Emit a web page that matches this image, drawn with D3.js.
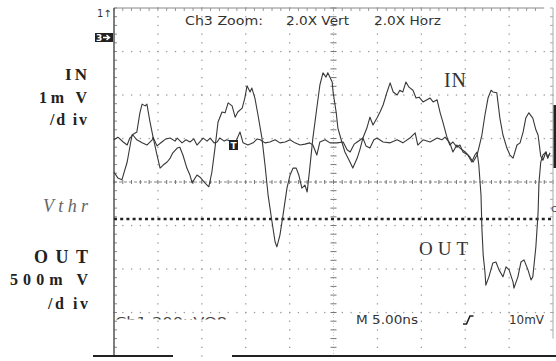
<!DOCTYPE html>
<html>
<head>
<meta charset="utf-8">
<script src="https://cdn.jsdelivr.net/npm/d3@7"></script>
<style>
  html, body { margin: 0; padding: 0; background: #fff; }
  svg { display: block; }
</style>
</head>
<body>
<div id="scope"></div>
<script>
// screen divisions: 10 across, 8 down (centre = 0)
const traceA_t = [0,0.09,0.18,0.30,0.41,0.52,0.59,0.64,0.71,0.75,0.82,0.89,0.98,1.05,1.12,1.21,1.28,1.34,1.44,1.50,1.57,1.66,1.73,1.78,1.89,1.96,2.07,2.16,2.23,2.30,2.37,2.46,2.53,2.60,2.69,2.76,2.82,2.92,2.98,3.03,3.10,3.14,3.21,3.28,3.37,3.44,3.51,3.60,3.67,3.71,3.78,3.85,3.94,4.01,4.08,4.15,4.21,4.28,4.35,4.40,4.46,4.53,4.62,4.69,4.76,4.83,4.87,4.97,4.99,5.06,5.10,5.19,5.26,5.35,5.44,5.54,5.60,5.67,5.76,5.83,5.90,5.99,6.06,6.13,6.22,6.29,6.36,6.45,6.51,6.58,6.65,6.72,6.81,6.88,6.95,7.04,7.13,7.20,7.27,7.36,7.43,7.49,7.59,7.65,7.72,7.81,7.88,7.95,8.06,8.15,8.22,8.27,8.31,8.36,8.38,8.41,8.45,8.47,8.54,8.63,8.70,8.77,8.86,8.93,9.00,9.09,9.11,9.20,9.27,9.34,9.43,9.50,9.54,9.61,9.66,9.68,9.72,9.77,9.84,9.88,9.93];
const traceA_v = [0.23,0.09,0.05,0.46,1.08,1.15,1.59,1.79,1.75,1.79,1.38,1.03,0.62,0.32,0.39,0.46,0.55,0.67,0.78,0.80,0.62,0.32,0.16,-0.02,0.16,0.11,-0.02,-0.11,0.23,0.78,1.38,1.61,1.59,1.82,1.75,1.49,1.61,1.70,1.93,2.21,2.07,2.16,1.93,1.54,1.01,0.39,-0.30,-0.92,-1.38,-1.49,-1.22,-0.76,-0.14,0.16,0.32,0.32,0.16,-0.14,-0.07,-0.23,0.32,1.01,1.70,2.23,2.51,2.41,2.51,2.30,2.07,1.61,1.24,0.92,0.69,0.51,0.32,0.55,0.74,1.01,1.24,1.49,1.31,1.47,1.61,1.77,2.07,2.28,2.07,2.00,2.11,2.07,2.30,2.18,2.11,1.93,1.95,1.84,1.89,1.93,1.84,1.89,1.59,1.38,1.01,0.85,0.92,0.80,0.85,0.69,0.62,0.46,0.62,0.69,0.39,-0.30,-1.06,-1.68,-2.07,-2.37,-2.18,-1.86,-1.84,-2.02,-2.18,-1.95,-2.02,-2.30,-2.44,-2.18,-1.84,-1.79,-2.02,-2.25,-2.18,-1.49,-0.71,-0.02,0.45,0.62,0.69,0.55,0.67];

const traceB_t = [0,0.09,0.21,0.30,0.36,0.43,0.52,0.64,0.75,0.87,0.89,0.98,1.09,1.18,1.28,1.39,1.44,1.55,1.64,1.73,1.82,1.89,2.03,2.12,2.19,2.28,2.35,2.41,2.51,2.57,2.69,2.78,2.87,2.94,3.05,3.17,3.26,3.33,3.44,3.55,3.67,3.78,3.90,4.01,4.12,4.24,4.35,4.46,4.53,4.62,4.69,4.81,4.92,5.08,5.22,5.31,5.38,5.47,5.54,5.67,5.74,5.83,5.92,5.99,6.13,6.29,6.45,6.58,6.74,6.86,6.92,7.04,7.20,7.36,7.47,7.54,7.65,7.72,7.81,7.88,8.00,8.11,8.18,8.27,8.31,8.38,8.45,8.52,8.59,8.63,8.72,8.79,8.86,8.95,9.02,9.09,9.18,9.25,9.32,9.38,9.45,9.54,9.61,9.66,9.72,9.77,9.84,9.88,9.93];
const traceB_v = [0.97,1.03,0.92,0.85,1.01,1.08,0.97,0.90,0.85,0.97,1.03,0.83,0.92,0.99,1.01,0.94,1.01,0.90,0.97,0.92,0.99,0.85,1.01,0.94,1.01,0.90,0.92,1.01,0.94,0.97,0.92,0.94,1.15,0.90,0.85,0.90,0.99,0.97,0.90,0.92,0.97,0.90,0.92,0.97,0.90,0.85,0.87,0.90,0.85,0.62,0.92,0.97,0.90,0.90,0.92,0.74,0.69,0.87,0.92,1.01,0.83,0.78,0.97,1.01,0.92,0.90,0.97,0.90,1.01,1.13,0.85,0.97,0.92,1.01,0.97,1.03,0.90,0.69,0.85,0.78,0.69,0.57,0.46,0.62,0.78,1.08,1.54,1.93,2.11,2.07,2.05,1.47,1.08,0.78,0.62,0.55,0.85,0.90,1.15,1.47,1.59,1.47,1.20,1.08,0.60,0.50,0.69,0.55,0.67];

const vthr = -0.85;

const leftLabels = [
  {text: "IN", x: 65, y: 80, size: 17, len: 22, style: "bold"},
  {text: "1m V", x: 39, y: 103, size: 16, len: 48, style: "bold"},
  {text: "/d iv", x: 50, y: 125, size: 16, len: 37, style: "bold"},
  {text: "Vthr", x: 43, y: 212, size: 18, len: 45, style: "italic"},
  {text: "OUT", x: 34, y: 263, size: 18, len: 54, style: "bold"},
  {text: "500m V", x: 10, y: 285, size: 16, len: 78, style: "bold"},
  {text: "/d iv", x: 48, y: 309, size: 16, len: 40, style: "bold"}
];

const readouts = [
  {text: "Ch3 Zoom:", x: 185, y: 25, len: 78},
  {text: "2.0X Vert", x: 286, y: 25, len: 63},
  {text: "2.0X Horz", x: 374, y: 25, len: 67},
  {text: "M 5.00ns", x: 356, y: 324, len: 62},
  {text: "10mV", x: 509, y: 324, len: 35}
];

const svg = d3.select("#scope").append("svg")
    .attr("width", 556)
    .attr("height", 361);

svg.append("rect").attr("width", 556).attr("height", 361).attr("fill", "#fff");

const x = d3.scaleLinear().domain([0, 10]).range([114, 553]);
const y = d3.scaleLinear().domain([-4, 4]).range([356, 8]);

// graticule dots
const minorX = d3.range(0, 50.5).map(i => i / 5);
const minorY = d3.range(0, 40.5).map(i => -4 + i / 5);
const g = svg.append("g").attr("fill", "#9a9a9a");
[1,2,3,4,6,7,8,9].forEach(d => {
  g.selectAll(null).data(minorY).enter().append("rect")
    .attr("x", x(d) - 0.6).attr("y", v => y(v) - 0.6)
    .attr("width", 1.3).attr("height", 1.3);
});
[-3,-2,-1,1,2,3].forEach(d => {
  g.selectAll(null).data(minorX).enter().append("rect")
    .attr("x", t => x(t) - 0.6).attr("y", y(d) - 0.6)
    .attr("width", 1.3).attr("height", 1.3);
});

// centre cross
svg.append("line").attr("x1", x(5)).attr("x2", x(5)).attr("y1", y(4)).attr("y2", y(-4))
  .attr("stroke", "#bbb").attr("stroke-width", 0.8).attr("stroke-dasharray", "1,2");
svg.selectAll(".vtick").data(minorY).enter().append("line")
  .attr("x1", x(5) - 3).attr("x2", x(5) + 3)
  .attr("y1", d => y(d)).attr("y2", d => y(d))
  .attr("stroke", "#777").attr("stroke-width", 1);
svg.append("line").attr("x1", x(0)).attr("x2", x(10)).attr("y1", y(0)).attr("y2", y(0))
  .attr("stroke", "#888").attr("stroke-width", 1).attr("stroke-dasharray", "3,2");
svg.selectAll(".htick").data(minorX).enter().append("line")
  .attr("x1", d => x(d)).attr("x2", d => x(d))
  .attr("y1", y(0) - 2).attr("y2", y(0) + 2)
  .attr("stroke", "#777").attr("stroke-width", 1);

// border ticks
svg.selectAll(".lt").data(minorY).enter().append("line")
  .attr("x1", x(0)).attr("x2", x(0) + 3)
  .attr("y1", d => y(d)).attr("y2", d => y(d))
  .attr("stroke", "#888");
svg.selectAll(".tt").data(minorX.filter(d => d < 9.8)).enter().append("line")
  .attr("x1", d => x(d)).attr("x2", d => x(d))
  .attr("y1", y(4)).attr("y2", y(4) + 3)
  .attr("stroke", "#999");
svg.selectAll(".rt").data(minorY.filter(d => d > -3.5)).enter().append("line")
  .attr("x1", x(10) - 3).attr("x2", x(10))
  .attr("y1", d => y(d)).attr("y2", d => y(d))
  .attr("stroke", "#aaa");

// borders
svg.append("line").attr("x1", x(0)).attr("x2", x(9.8)).attr("y1", y(4)).attr("y2", y(4))
  .attr("stroke", "#888").attr("stroke-width", 1);
svg.append("line").attr("x1", x(0)).attr("x2", x(0)).attr("y1", y(4)).attr("y2", y(-4))
  .attr("stroke", "#555").attr("stroke-width", 1.5);
svg.append("line").attr("x1", x(10)).attr("x2", x(10)).attr("y1", y(4)).attr("y2", y(-3.6))
  .attr("stroke", "#aaa").attr("stroke-width", 1);
svg.append("line").attr("x1", 555).attr("x2", 555).attr("y1", 105).attr("y2", 168)
  .attr("stroke", "#222").attr("stroke-width", 3);
svg.append("text").attr("x", 551).attr("y", 212).text("c")
  .attr("font-family", "DejaVu Sans").attr("font-size", 11).attr("fill", "#555");
svg.append("line").attr("x1", 93).attr("x2", 173).attr("y1", 356).attr("y2", 356)
  .attr("stroke", "#222").attr("stroke-width", 2);
svg.append("line").attr("x1", 232).attr("x2", 556).attr("y1", 356).attr("y2", 356)
  .attr("stroke", "#222").attr("stroke-width", 2);

// threshold
svg.append("line").attr("x1", x(0)).attr("x2", x(10)).attr("y1", y(vthr)).attr("y2", y(vthr))
  .attr("stroke", "#222").attr("stroke-width", 2.6).attr("stroke-dasharray", "3,3.2");

// traces
const line = d3.line().x(d => x(d[0])).y(d => y(d[1]));
[[traceB_t, traceB_v], [traceA_t, traceA_v]].forEach(([t, v]) => {
  svg.append("path").datum(d3.zip(t, v))
    .attr("d", line)
    .attr("fill", "none")
    .attr("stroke", "#383838")
    .attr("stroke-width", 1.1)
    .attr("stroke-linejoin", "round");
});

// trigger marker on trace B
svg.append("rect").attr("x", 229).attr("y", 140).attr("width", 9).attr("height", 10).attr("fill", "#222");
svg.append("text").attr("x", 233.5).attr("y", 148.5).attr("text-anchor", "middle").text("T")
  .attr("font-family", "DejaVu Sans").attr("font-weight", "bold").attr("font-size", 9).attr("fill", "#fff");

// scope readouts
svg.selectAll(".ro").data(readouts).enter().append("text")
  .attr("x", d => d.x).attr("y", d => d.y)
  .attr("textLength", d => d.len).attr("lengthAdjust", "spacingAndGlyphs")
  .attr("font-family", "DejaVu Sans").attr("font-size", 13).attr("fill", "#333")
  .text(d => d.text);

svg.append("clipPath").attr("id", "cut").append("rect")
  .attr("x", 100).attr("y", 300).attr("width", 150).attr("height", 19.5);
svg.append("text").attr("x", 115).attr("y", 326).attr("clip-path", "url(#cut)")
  .attr("textLength", 112).attr("lengthAdjust", "spacingAndGlyphs")
  .attr("font-family", "DejaVu Sans").attr("font-size", 13).attr("fill", "#444")
  .text("Ch1    200uVΩ8");

svg.append("path").attr("d", "M463,324 L466.5,324 L470,316 L473.5,316")
  .attr("fill", "none").attr("stroke", "#222").attr("stroke-width", 1.6);

svg.append("text").attr("x", 97).attr("y", 17).text("1↑")
  .attr("font-family", "DejaVu Sans").attr("font-size", 10).attr("fill", "#333");
svg.append("rect").attr("x", 95).attr("y", 33).attr("width", 18).attr("height", 9).attr("fill", "#222");
svg.append("text").attr("x", 96).attr("y", 41).text("3")
  .attr("font-family", "DejaVu Sans").attr("font-weight", "bold").attr("font-size", 9).attr("fill", "#fff");
svg.append("path").attr("d", "M103,37.5 L109,37.5 M106.5,35 L109.5,37.5 L106.5,40")
  .attr("fill", "none").attr("stroke", "#fff").attr("stroke-width", 1.4);

// labels
svg.selectAll(".ll").data(leftLabels).enter().append("text")
  .attr("x", d => d.x).attr("y", d => d.y)
  .attr("textLength", d => d.len).attr("lengthAdjust", "spacing")
  .attr("font-family", "Liberation Serif")
  .attr("font-size", d => d.size)
  .attr("font-weight", d => d.style === "bold" ? "bold" : "normal")
  .attr("font-style", d => d.style === "italic" ? "italic" : "normal")
  .attr("fill", d => d.style === "italic" ? "#666" : "#222")
  .text(d => d.text);

svg.append("text").attr("x", 444).attr("y", 87).text("IN")
  .attr("textLength", 22).attr("lengthAdjust", "spacing")
  .attr("font-family", "Liberation Serif").attr("font-size", 20).attr("fill", "#333");
svg.append("text").attr("x", 419).attr("y", 255).text("OUT")
  .attr("textLength", 49).attr("lengthAdjust", "spacing")
  .attr("font-family", "Liberation Serif").attr("font-size", 19).attr("fill", "#333");
</script>
</body>
</html>
